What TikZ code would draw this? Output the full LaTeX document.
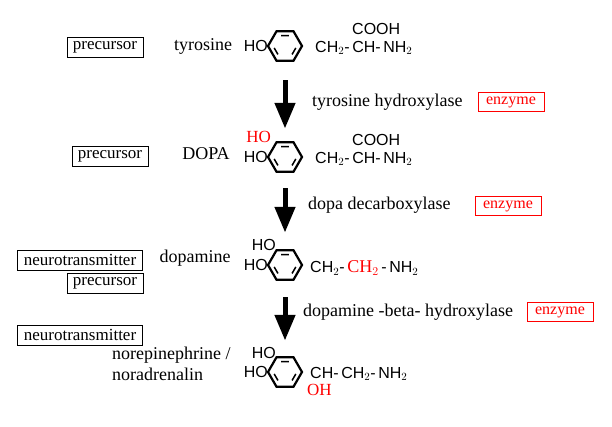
\documentclass[tikz,border=0pt]{standalone}
\usepackage{fontspec}
\setmainfont{Liberation Serif}
\newfontfamily\chemfont{Liberation Sans}
\usetikzlibrary{arrows}
\tikzstyle{label} = [font=\fontsize{18}{21}\selectfont, inner sep=1pt]
\tikzstyle{role} = [rectangle, draw=black, thick, font=\fontsize{17}{19}\selectfont, inner xsep=6pt, inner ysep=1pt, minimum height=20pt]
\tikzstyle{enzyme} = [rectangle, draw=red, thick, text=red, font=\fontsize{16}{18}\selectfont, inner xsep=4pt, inner ysep=1pt, minimum width=66pt, minimum height=19pt]
\tikzstyle{chem} = [font=\chemfont\fontsize{16}{18}\selectfont, inner sep=0pt, anchor=west]
\tikzstyle{bigarrow} = [line width=5pt, -triangle 45]
\newcommand{\benzring}[2]{%
  \draw[line width=2.2pt] (#1,#2) +(0:17) -- +(60:17) -- +(120:17) -- +(180:17) -- +(240:17) -- +(300:17) -- cycle;
  \draw[line width=1.5pt] (#1,#2) +(10:11) -- +(50:11) +(130:11) -- +(170:11) +(250:11) -- +(290:11);}

\begin{document}
\begin{tikzpicture}[x=1pt, y=-1pt]
    \useasboundingbox (0,0) rectangle (612,426);
    %linke Spalte
    \node (r_tyr) [role] at (105,47) {precursor};
    \node (n_tyr) [label] at (203,46) {tyrosine};
    \node (r_dopa) [role] at (110,156) {precursor};
    \node (n_dopa) [label] at (206,154) {DOPA};
    \node (r_da1) [role] at (80,260) {neurotransmitter};
    \node (r_da2) [role] at (105,283) {precursor};
    \node (n_da) [label] at (195,258) {dopamine};
    \node (r_ne) [role] at (80,335) {neurotransmitter};
    \node (n_ne) [label, align=left, anchor=west] at (111,364) {norepinephrine /\\noradrenalin};

    %Strukturen
    \benzring{285}{46}
    \node (t_ho) [chem, anchor=east] at (268,46) {HO};
    \node (t_side) [chem] at (315,48) {CH$_2$-\,CH-\,NH$_2$};
    \node (t_cooh) [chem] at (352,29) {COOH};
    \benzring{285}{157}
    \node (d_ho2) [chem, anchor=east, text=red, font=\fontsize{17}{19}\selectfont] at (271,137) {HO};
    \node (d_ho) [chem, anchor=east] at (268,157) {HO};
    \node (d_side) [chem] at (315,159) {CH$_2$-\,CH-\,NH$_2$};
    \node (d_cooh) [chem] at (352,140) {COOH};
    \benzring{285}{265}
    \node (a_ho2) [chem, anchor=east] at (276,245) {HO};
    \node (a_ho) [chem, anchor=east] at (268,265) {HO};
    \node (a_side) [chem] at (310,268) {CH$_2$-\,{\color{red}\fontsize{18}{20}\rmfamily CH$_2$}\,-\,NH$_2$};
    \benzring{285}{372}
    \node (n_ho2) [chem, anchor=east] at (276,353) {HO};
    \node (n_ho) [chem, anchor=east] at (268,372) {HO};
    \node (n_side) [chem] at (310,374) {CH-\,CH$_2$-\,NH$_2$};
    \node (n_oh) [chem, text=red, font=\fontsize{17}{19}\selectfont] at (307,390) {OH};

    %Pfeile und Enzyme
    \coordinate (a1) at (285,80);  \coordinate (b1) at (285,128);
    \coordinate (a2) at (285,188); \coordinate (b2) at (285,232);
    \coordinate (a3) at (285,297); \coordinate (b3) at (285,340);
    \draw [bigarrow] (a1) -- (b1);
    \draw [bigarrow] (a2) -- (b2);
    \draw [bigarrow] (a3) -- (b3);
    \node (e1) [label, anchor=west] at (311,102) {tyrosine hydroxylase};
    \node (z1) [enzyme] at (511,102) {enzyme};
    \node (e2) [label, anchor=west] at (307,205) {dopa decarboxylase};
    \node (z2) [enzyme] at (508,206) {enzyme};
    \node (e3) [label, anchor=west] at (302,312) {dopamine -beta- hydroxylase};
    \node (z3) [enzyme] at (560,312) {enzyme};
\end{tikzpicture}
\end{document}
